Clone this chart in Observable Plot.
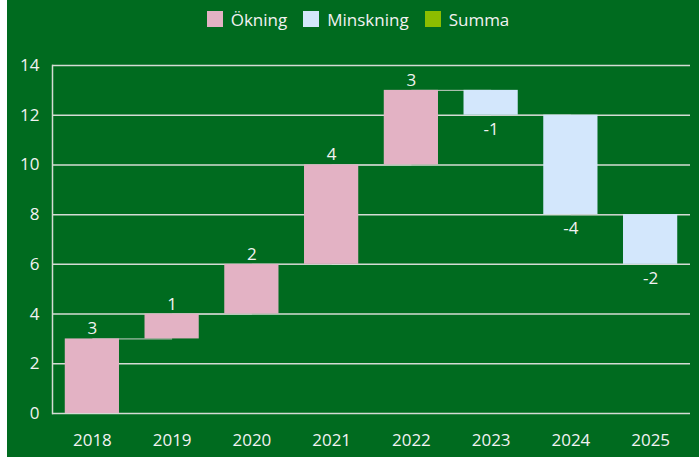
<!DOCTYPE html>
<html>
<head>
<meta charset="utf-8">
<script src="https://cdn.jsdelivr.net/npm/d3@7"></script>
<script src="https://cdn.jsdelivr.net/npm/@observablehq/plot@0.6"></script>
<style>
  html, body { margin: 0; padding: 0; background: #ffffff; }
  #chart {
    position: absolute; left: 7px; top: 0; width: 692px; height: 457px;
    background: #006b1f; color: #f2f2f2; font-family: "Open Sans", sans-serif;
  }
  #legend {
    height: 38px; display: flex; align-items: center; justify-content: center;
    font-size: 17px; padding-left: 10px; box-sizing: border-box;
  }
  .item { display: flex; align-items: center; margin: 0 8px; }
  .sw { width: 16px; height: 16px; margin-right: 8px; }
  svg { display: block; }
</style>
</head>
<body>
<div id="chart">
  <div id="legend"></div>
  <div id="plot"></div>
</div>
<script>
const years = ["2018", "2019", "2020", "2021", "2022", "2023", "2024", "2025"];
const changes = [3, 1, 2, 4, 3, -1, -4, -2];
const legendLabels = ["Ökning", "Minskning", "Summa"];
const legendColors = ["#e3b2c4", "#d3e7fc", "#8cbd00"];
const yTicks = [0, 2, 4, 6, 8, 10, 12, 14];

// Build waterfall table
let level = 0;
const data = years.map((year, i) => {
  const start = level;
  const end = level + changes[i];
  level = end;
  return { year, change: changes[i], start, end, type: changes[i] >= 0 ? "Ökning" : "Minskning" };
});
const connectors = data.slice(0, -1).map((d, i) => ({ from: d.year, to: data[i + 1].year, level: d.end }));

// Legend
const legend = document.getElementById("legend");
legendLabels.forEach((l, i) => {
  const it = document.createElement("div");
  it.className = "item";
  it.innerHTML = `<div class="sw" style="background:${legendColors[i]}"></div><span>${l}</span>`;
  legend.appendChild(it);
});

const grid = "#d4dcd4";
const chart = Plot.plot({
  width: 692,
  height: 419,
  marginTop: 27,
  marginBottom: 44,
  marginLeft: 45,
  marginRight: 9,
  style: { background: "transparent", color: "#f2f2f2", fontFamily: "Open Sans", fontSize: "17px", overflow: "visible" },
  x: { domain: years, paddingInner: 0.32, paddingOuter: 0.16, round: false, label: null },
  y: { domain: [0, 14], label: null },
  color: { domain: legendLabels, range: legendColors },
  marks: [
    Plot.ruleY(yTicks, { stroke: grid, strokeWidth: 1.5 }),
    Plot.frame({ anchor: "left", stroke: grid, strokeWidth: 1.5 }),
    Plot.link(connectors, { x1: "from", x2: "to", y1: "level", y2: "level", stroke: "#c8cfc8", strokeWidth: 1 }),
    Plot.barY(data, { x: "year", y1: "start", y2: "end", fill: "type" }),
    Plot.text(data.filter(d => d.change >= 0), { x: "year", y: "end", text: d => String(d.change), dy: -10, fill: "#f2f2f2" }),
    Plot.text(data.filter(d => d.change < 0), { x: "year", y: "end", text: d => String(d.change), dy: 14, fill: "#f2f2f2" }),
    Plot.axisY({ ticks: yTicks, tickSize: 0, tickPadding: 13, label: null, fontSize: 17 }),
    Plot.axisX({ tickSize: 0, tickPadding: 20, label: null, fontSize: 17 })
  ]
});
document.getElementById("plot").appendChild(chart);
</script>
</body>
</html>
